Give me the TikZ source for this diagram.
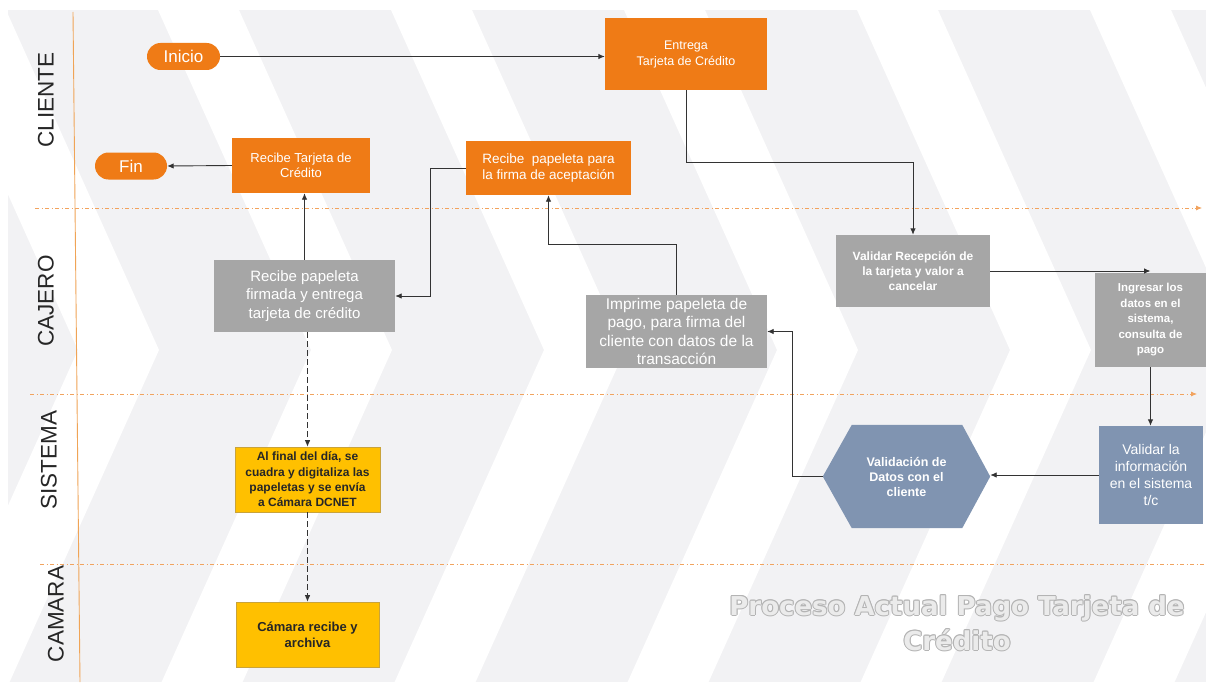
\documentclass[tikz,border=0pt]{standalone}
\usepackage{fontspec}
\setmainfont{Liberation Sans}
\newfontfamily\titlefont{DejaVu Sans}
\usetikzlibrary{arrows.meta,calc}

\definecolor{cBack}{HTML}{F2F2F4}
\definecolor{cOrange}{HTML}{EF7B16}
\definecolor{cGray}{HTML}{A6A6A6}
\definecolor{cBlue}{HTML}{8094B1}
\definecolor{cYellow}{HTML}{FFC000}
\definecolor{cYellowEdge}{HTML}{C9A33A}
\definecolor{cDark}{HTML}{262626}
\definecolor{cLine}{HTML}{333333}
\definecolor{cSep}{HTML}{F2A35E}
\definecolor{cLaneLine}{HTML}{F0A456}
\definecolor{cTitleEdge}{HTML}{B4B4B4}
\definecolor{cTitleFill}{HTML}{EBEBEB}

\newcommand\fsz[2]{\fontsize{#1}{#2}\selectfont}

\tikzset{
  box/.style={rectangle, inner sep=2pt, align=center},
  orangebox/.style={box, fill=cOrange, text=white},
  graybox/.style={box, fill=cGray, text=white},
  bluebox/.style={box, fill=cBlue, text=white},
  yellowbox/.style={box, fill=cYellow, text=cDark, draw=cYellowEdge, line width=0.6pt},
  pill/.style={rectangle, rounded corners=13.5pt, fill=cOrange, text=white,
    minimum height=27pt, inner sep=0pt, font=\fsz{17}{20}},
  conn/.style={draw=cLine, line width=0.9pt, -{Latex[length=6.5pt,width=5.5pt]}},
  dashconn/.style={conn, dash pattern=on 6pt off 3pt},
  sepline/.style={draw=cSep, line width=0.8pt,
    dash pattern=on 4pt off 2.5pt on 1pt off 2.5pt},
  septip/.style={sepline, -{Latex[length=6pt,width=5pt]}},
  lane/.style={rotate=90, font=\fsz{22.5}{26}, text=cDark, inner sep=0pt},
  titletext/.style={font=\titlefont\bfseries\fsz{26}{35}, align=center, inner sep=0pt},
}

\begin{document}
\begin{tikzpicture}[x=1pt,y=-1pt]
\useasboundingbox (0,0) rectangle (1206,682);

% backdrop with white chevron bands
\fill[cBack] (8,10) rectangle (1206,682);
\begin{scope}
  \clip (8,10) rectangle (1206,682);
  \foreach \L in {-75,158,391,624,857,1090}{
    \fill[white] (\L,10) -- (\L+81,10) -- (\L+234,350) -- (\L+81,690)
      -- (\L,690) -- (\L+153,350) -- cycle;
  }
\end{scope}

% lane header rule and lane names
\coordinate (rtop) at (73,12);
\coordinate (rbot) at (80,682);
\draw[cLaneLine, line width=0.9pt] (rtop) -- (rbot);
\node[lane] (lcliente) at (46,100) {CLIENTE};
\node[lane] (lcajero)  at (46,301) {CAJERO};
\node[lane] (lsistema) at (49,460) {SISTEMA};
\node[lane] (lcamara)  at (56,614) {CAMARA};

% lane separators
\coordinate (s1a) at (35,208);  \coordinate (s1b) at (1202,208);
\coordinate (s2a) at (30,394);  \coordinate (s2b) at (1197,394);
\coordinate (s3a) at (40,564);  \coordinate (s3b) at (1204,564);
\draw[septip]  (s1a) -- (s1b);
\draw[septip]  (s2a) -- (s2b);
\draw[sepline] (s3a) -- (s3b);

% CLIENTE
\node[pill, minimum width=73pt] (inicio) at (183.5,56.5) {Inicio};
\node[pill, minimum width=72pt] (fin) at (131,166) {Fin};
\node[orangebox, minimum width=162pt, minimum height=72pt, font=\fsz{12.5}{16}]
  (entrega) at (686,54) {Entrega\\Tarjeta de Crédito};
\node[orangebox, minimum width=138pt, minimum height=55pt, font=\fsz{13}{15.7}]
  (rectarjeta) at (301,165.5) {Recibe Tarjeta de\\Crédito};
\node[orangebox, minimum width=165pt, minimum height=54pt, font=\fsz{13.5}{16}]
  (papeletapara) at (548.5,168) {Recibe\ \ papeleta para\\la firma de aceptación};

% CAJERO
\node[graybox, minimum width=181pt, minimum height=72pt, font=\fsz{15}{18.3}]
  (firmada) at (304.5,296) {Recibe papeleta\\firmada y entrega\\tarjeta de crédito};
\node[graybox, minimum width=181pt, minimum height=73pt, font=\fsz{15.5}{18.3}]
  (imprime) at (676.5,331.5) {Imprime papeleta de\\pago, para firma del\\cliente con datos de la\\transacción};
\node[graybox, minimum width=154pt, minimum height=72pt, font=\bfseries\fsz{12}{15}]
  (valrec) at (913,271) {Validar Recepción de\\la tarjeta y valor a\\cancelar};
\node[graybox, minimum width=111pt, minimum height=94pt, font=\bfseries\fsz{11.5}{15.5}]
  (ingresar) at (1150.5,320) {Ingresar los\\datos en el\\sistema,\\consulta de\\pago};

% SISTEMA
\node[bluebox, minimum width=104pt, minimum height=98pt, font=\fsz{14}{17}]
  (valinfo) at (1151,475) {Validar la\\información\\en el sistema\\t/c};
\path (906.5,476.5) node[box, minimum width=167pt, minimum height=103pt] (hex) {};
\fill[cBlue] (hex.west) -- ([xshift=29pt]hex.north west) -- ([xshift=-28pt]hex.north east)
  -- (hex.east) -- ([xshift=-28pt]hex.south east) -- ([xshift=29pt]hex.south west) -- cycle;
\node[box, text=white, font=\bfseries\fsz{12.5}{15}] (hextext) at (hex.center)
  {Validación de\\Datos con el\\cliente};
\node[yellowbox, minimum width=145pt, minimum height=65pt, font=\bfseries\fsz{12}{15.3}]
  (alfinal) at (307.5,479.5) {Al final del día, se\\cuadra y digitaliza las\\papeletas y se envía\\a Cámara DCNET};

% CAMARA
\node[yellowbox, minimum width=143pt, minimum height=65pt, font=\bfseries\fsz{13}{16}]
  (camara) at (307.5,634.5) {Cámara recibe y\\archiva};

% flow
\draw[conn] (inicio.east) -- (inicio.east -| entrega.west);
\draw[conn] (entrega.south) -- ++(0,72) -| (valrec.north);
\draw[conn] (valrec.east) -- (valrec.east -| ingresar.north);
\draw[conn] (ingresar.south) -- (ingresar.south |- valinfo.north);
\draw[conn] (valinfo.west) -- (valinfo.west -| hex.east);
\draw[conn] (hex.west) -- ++(-30,0) |- (imprime.east);
\draw[conn] (imprime.north) -- ++(0,-50) -| (papeletapara.south);
\draw[conn] (papeletapara.west) -- ++(-35,0) |- (firmada.east);
\draw[conn] (firmada.north) -- (firmada.north |- rectarjeta.south);
\draw[conn] (rectarjeta.west) -- (fin.east);
\draw[dashconn] (firmada.south -| alfinal.north) -- (alfinal.north);
\draw[dashconn] (alfinal.south) -- (camara.north);

% outlined caption
\foreach \dx/\dy in {1/0,-1/0,0/1,0/-1,0.7/0.7,-0.7/0.7,0.7/-0.7,-0.7/-0.7}{
  \node[titletext, text=cTitleEdge] at (957+\dx,623+\dy)
    {Proceso Actual Pago Tarjeta de\\Crédito};
}
\node[titletext, text=cTitleFill] (caption) at (957,623)
  {Proceso Actual Pago Tarjeta de\\Crédito};
\end{tikzpicture}
\end{document}
